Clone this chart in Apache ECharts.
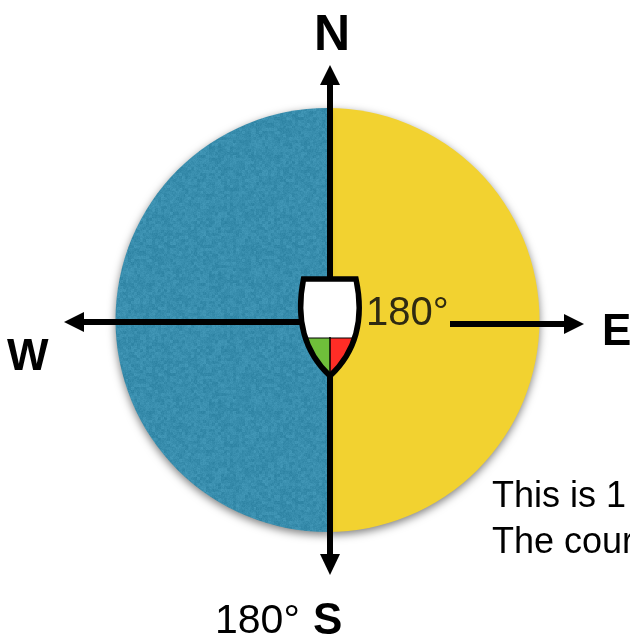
<!DOCTYPE html>
<html>
<head>
<meta charset="utf-8">
<style>
  html, body { margin: 0; padding: 0; background: #fff; overflow: hidden; }
  #chart { width: 630px; height: 640px; }
</style>
<script src="https://cdn.jsdelivr.net/npm/echarts@6/dist/echarts.min.js"></script>
</head>
<body>
<div id="chart"></div>
<script>
// half of the compass on each side of the bow, in degrees
var sectorNames = ['East', 'West'];
var sectorDegrees = [180, 180];
var directionLabels = ['N', 'E', 'S', 'W'];
var angleLabel = '180°';
var noteLines = ['This is 1', 'The cour'];

var font = '"Liberation Sans", Arial, sans-serif';

function hash(x, y) {
  var h = Math.sin(x * 12.9898 + y * 78.233) * 43758.5453;
  return h - Math.floor(h);
}

// mottled blue fill for the west half
function mottledTexture() {
  var size = 128;
  var canvas = document.createElement('canvas');
  canvas.width = canvas.height = size;
  var ctx = canvas.getContext('2d');
  var img = ctx.createImageData(size, size);
  for (var y = 0; y < size; y++) {
    for (var x = 0; x < size; x++) {
      var fine = hash(x, y) - 0.5;
      var blotch = hash(Math.floor(x / 3), Math.floor(y / 3) + 200) - 0.5;
      var d = fine * 10 + blotch * 14;
      var i = (y * size + x) * 4;
      img.data[i] = 56 + d;
      img.data[i + 1] = 141 + d;
      img.data[i + 2] = 173 + d;
      img.data[i + 3] = 255;
    }
  }
  ctx.putImageData(img, 0, 0);
  return canvas;
}

function arrow(points) {
  return { type: 'polygon', shape: { points: points }, style: { fill: '#000' }, z: 10 };
}
function bar(x1, y1, x2, y2) {
  return {
    type: 'line',
    shape: { x1: x1, y1: y1, x2: x2, y2: y2 },
    style: { stroke: '#000', lineWidth: 6 },
    z: 10
  };
}
function label(text, x, y, size, weight, color) {
  return {
    type: 'text',
    x: x,
    y: y,
    style: {
      text: text,
      fontFamily: font,
      fontSize: size,
      fontWeight: weight || 'normal',
      fill: color || '#000',
      textVerticalAlign: 'middle'
    },
    z: 12
  };
}

// boat outline and its two bow patches
echarts.graphic.registerShape('boatHull', echarts.graphic.extendPath(
  'M303.5 279 L356 279 C363 312 360 348 330 376 C300 348 297 312 303.5 279 Z', {}));
echarts.graphic.registerShape('boatPort', echarts.graphic.extendPath(
  'M330 338 L305 338 Q311 361 330 376 Z', {}));
echarts.graphic.registerShape('boatStarboard', echarts.graphic.extendPath(
  'M330 338 L355 338 Q349 361 330 376 Z', {}));

var chart = echarts.init(document.getElementById('chart'), null, { renderer: 'canvas' });
chart.setOption({
  animation: false,
  backgroundColor: '#fff',
  series: [{
    type: 'pie',
    silent: true,
    center: [327.5, 320],
    radius: [0, 212],
    startAngle: 90,
    clockwise: true,
    label: { show: false },
    labelLine: { show: false },
    itemStyle: {
      shadowBlur: 9,
      shadowOffsetY: 3,
      shadowColor: 'rgba(0,0,0,0.5)'
    },
    data: [
      { name: sectorNames[0], value: sectorDegrees[0], itemStyle: { color: '#f2d230' } },
      { name: sectorNames[1], value: sectorDegrees[1], itemStyle: { color: { image: mottledTexture(), repeat: 'repeat' } } }
    ]
  }],
  graphic: [
    // compass arrows
    bar(330, 85, 330, 556),
    bar(84, 322, 302, 322),
    bar(450, 324, 566, 324),
    arrow([[330, 65], [320, 85], [340, 85]]),
    arrow([[330, 575], [320, 554], [340, 554]]),
    arrow([[64, 322], [84, 312], [84, 332]]),
    arrow([[584, 324], [564, 314], [564, 334]]),
    // boat
    { type: 'boatHull', shape: {}, style: { fill: '#fff' }, z: 20 },
    { type: 'boatPort', shape: {}, style: { fill: '#6fbf3a' }, z: 21 },
    { type: 'boatStarboard', shape: {}, style: { fill: '#ff2d26' }, z: 21 },
    { type: 'line', shape: { x1: 306, y1: 338, x2: 354, y2: 338 }, style: { stroke: '#000', lineWidth: 1 }, z: 22 },
    { type: 'line', shape: { x1: 330, y1: 337, x2: 330, y2: 375 }, style: { stroke: '#000', lineWidth: 1.5 }, z: 22 },
    { type: 'boatHull', shape: {}, style: { fill: 'none', stroke: '#000', lineWidth: 5.5 }, z: 23 },
    // texts
    label(directionLabels[0], 314, 36, 50, 'bold'),
    label(directionLabels[1], 602, 333, 44, 'bold'),
    label(directionLabels[2], 313, 622, 44, 'bold'),
    label(directionLabels[3], 7, 358, 44, 'bold'),
    label(angleLabel, 366, 314, 40, 'normal', '#2f2a12'),
    label(angleLabel, 215, 622, 41),
    label(noteLines[0], 492, 497, 36),
    label(noteLines[1], 492, 543, 36)
  ]
});
</script>
</body>
</html>
